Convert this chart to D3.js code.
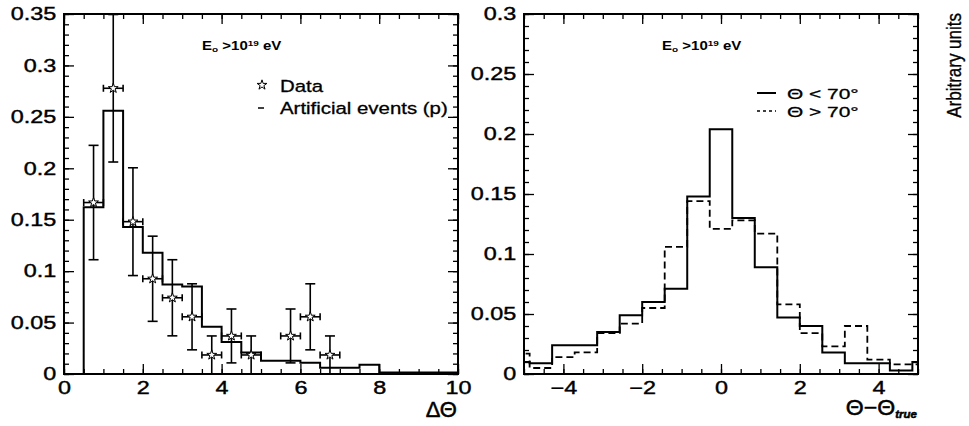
<!DOCTYPE html>
<html><head><meta charset="utf-8">
<script src="https://cdn.jsdelivr.net/npm/d3@7"></script>
<style>body{margin:0;background:#fff}svg{display:block}</style>
</head><body>
<svg id="c" width="969" height="426"></svg>
<script>
// ---------- Left panel data (ΔΘ) ----------
const leftBinEdges = [0,0.5,1,1.5,2,2.5,3,3.5,4,4.5,5,5.5,6,6.5,7,7.5,8,8.5,9,9.5,10];
const artificialEvents = [0,0.162,0.256,0.143,0.118,0.087,0.085,0.046,0.031,0.021,0.013,0.013,0.011,0.006,0.006,0.009,0.0015,0.0015,0.0015,0.0015];
const dataX    = [0.75,1.25,1.75,2.25,2.75,3.25,3.75,4.25,4.75,5.75,6.25,6.75];
const dataY    = [0.1667,0.2778,0.1481,0.0926,0.0741,0.0556,0.0185,0.0370,0.0185,0.0370,0.0556,0.0185];
const dataYErr = [0.0556,0.0717,0.0524,0.0414,0.0370,0.0321,0.0185,0.0262,0.0185,0.0262,0.0321,0.0185];
const dataXErr = [0.25,0.25,0.25,0.25,0.25,0.25,0.25,0.25,0.25,0.25,0.25,0.25];

// ---------- Right panel data (Θ−Θtrue) ----------
const rightBinEdges = [-5,-4.857,-4.286,-3.714,-3.143,-2.571,-2.0,-1.429,-0.857,-0.286,0.286,0.857,1.429,2.0,2.571,3.143,3.714,4.286,4.857,5];
const thetaBelow70 = [0.010,0.009,0.024,0.024,0.035,0.049,0.060,0.071,0.148,0.204,0.130,0.089,0.047,0.040,0.018,0.009,0.009,0.003,0.010];
const thetaAbove70 = [0.017,0.005,0.014,0.018,0.034,0.042,0.055,0.106,0.144,0.121,0.128,0.117,0.058,0.034,0.023,0.040,0.012,0.008,0.008];

// ---------- Ticks ----------
const leftXTicks = [0,2,4,6,8,10];
const leftXTickLabels = ["0","2","4","6","8","10"];
const leftYTicks = [0,0.05,0.1,0.15,0.2,0.25,0.3,0.35];
const leftYTickLabels = ["0","0.05","0.1","0.15","0.2","0.25","0.3","0.35"];
const rightXTicks = [-4,-2,0,2,4];
const rightXTickLabels = ["\u22124","\u22122","0","2","4"];
const rightYTicks = [0,0.05,0.1,0.15,0.2,0.25,0.3];
const rightYTickLabels = ["0","0.05","0.1","0.15","0.2","0.25","0.3"];

const svg = d3.select("#c");
const TOP = 14, BOTTOM = 374;
const FONT = "'Liberation Sans', Arial, sans-serif";
const SX = 1.3; // horizontal stretch of the original lettering

function addText(g, x, y, anchor, size, sx, parts, weight, strokeW) {
  const t = g.append("text")
    .attr("transform", `translate(${x},${y}) scale(${sx},1)`)
    .attr("text-anchor", anchor)
    .attr("font-family", FONT)
    .attr("font-size", size)
    .attr("font-weight", weight || "normal")
    .attr("fill", "#000");
  if (strokeW) t.attr("stroke", "#000").attr("stroke-width", strokeW);
  parts.forEach(p => {
    const ts = t.append("tspan").text(p.t);
    if (p.sub) ts.attr("font-size", p.size || size * 0.62).attr("baseline-shift", p.sub);
    if (p.style) ts.attr("font-style", p.style);
    if (p.w) ts.attr("font-weight", p.w);
  });
  return t;
}

function panel(x0, x1, xDomain, yDomain, xTicks, xLabels, yTicks, yLabels, xMinorStep) {
  const g = svg.append("g");
  const x = d3.scaleLinear().domain(xDomain).range([x0, x1]);
  const y = d3.scaleLinear().domain(yDomain).range([BOTTOM, TOP]);
  const xMinor = d3.range(xDomain[0], xDomain[1] + 1e-9, xMinorStep);
  const yMinor = d3.range(0, yDomain[1] + 1e-9, 0.01);

  function styleAxis(sel) {
    sel.select(".domain").remove();
    sel.selectAll("line").attr("stroke", "#000").attr("stroke-width", 1.3);
    sel.attr("font-family", FONT).attr("font-size", 18);
    sel.selectAll("text").attr("fill", "#000").attr("stroke", "#000").attr("stroke-width", 0.4);
  }
  // bottom
  g.append("g").attr("transform", `translate(0,${BOTTOM})`)
    .call(d3.axisBottom(x).tickValues(xMinor).tickFormat("").tickSizeInner(-5).tickSizeOuter(0)).call(styleAxis);
  const bx = g.append("g").attr("transform", `translate(0,${BOTTOM})`)
    .call(d3.axisBottom(x).tickValues(xTicks).tickFormat((d, i) => xLabels[i]).tickSizeInner(-10).tickSizeOuter(0).tickPadding(7)).call(styleAxis);
  bx.selectAll("text").attr("transform", `scale(${SX},1)`);
  // top
  g.append("g").attr("transform", `translate(0,${TOP})`)
    .call(d3.axisTop(x).tickValues(xMinor).tickFormat("").tickSizeInner(-5).tickSizeOuter(0)).call(styleAxis);
  g.append("g").attr("transform", `translate(0,${TOP})`)
    .call(d3.axisTop(x).tickValues(xTicks).tickFormat("").tickSizeInner(-10).tickSizeOuter(0)).call(styleAxis);
  // left
  g.append("g").attr("transform", `translate(${x0},0)`)
    .call(d3.axisLeft(y).tickValues(yMinor).tickFormat("").tickSizeInner(-5).tickSizeOuter(0)).call(styleAxis);
  const ly = g.append("g").attr("transform", `translate(${x0},0)`)
    .call(d3.axisLeft(y).tickValues(yTicks).tickFormat((d, i) => yLabels[i]).tickSizeInner(-10).tickSizeOuter(0).tickPadding(6)).call(styleAxis);
  ly.selectAll("text").attr("transform", `scale(${SX},1)`);
  // right
  g.append("g").attr("transform", `translate(${x1},0)`)
    .call(d3.axisRight(y).tickValues(yMinor).tickFormat("").tickSizeInner(-5).tickSizeOuter(0)).call(styleAxis);
  g.append("g").attr("transform", `translate(${x1},0)`)
    .call(d3.axisRight(y).tickValues(yTicks).tickFormat("").tickSizeInner(-10).tickSizeOuter(0)).call(styleAxis);

  return { g, x, y };
}

function histPath(edges, values, x, y) {
  const pts = [[edges[0], 0]];
  values.forEach((v, i) => { pts.push([edges[i], v]); pts.push([edges[i + 1], v]); });
  pts.push([edges[edges.length - 1], 0]);
  return d3.line().x(d => x(d[0])).y(d => y(d[1]))(pts);
}

// ================= LEFT PANEL =================
const L = panel(64, 458, [0, 10], [0, 0.35], leftXTicks, leftXTickLabels, leftYTicks, leftYTickLabels, 0.5);
L.g.append("path").attr("d", histPath(leftBinEdges, artificialEvents, L.x, L.y))
  .attr("fill", "none").attr("stroke", "#000").attr("stroke-width", 2);

const eb = L.g.append("g").attr("stroke", "#000").attr("stroke-width", 1.6);
dataX.forEach((cx, i) => {
  const px = L.x(cx), py = L.y(dataY[i]);
  const yt = L.y(Math.min(dataY[i] + dataYErr[i], 0.35)), yb = L.y(Math.max(dataY[i] - dataYErr[i], 0));
  const xl = L.x(cx - dataXErr[i]), xr = L.x(cx + dataXErr[i]);
  eb.append("line").attr("x1", px).attr("x2", px).attr("y1", yt).attr("y2", yb);
  eb.append("line").attr("x1", px - 5).attr("x2", px + 5).attr("y1", yt).attr("y2", yt);
  eb.append("line").attr("x1", px - 5).attr("x2", px + 5).attr("y1", yb).attr("y2", yb);
  eb.append("line").attr("x1", xl).attr("x2", xr).attr("y1", py).attr("y2", py);
  eb.append("line").attr("x1", xl).attr("x2", xl).attr("y1", py - 3.5).attr("y2", py + 3.5);
  eb.append("line").attr("x1", xr).attr("x2", xr).attr("y1", py - 3.5).attr("y2", py + 3.5);
});
const star = d3.symbol().type(d3.symbolStar).size(30);
L.g.append("g").selectAll("path").data(dataX).join("path")
  .attr("transform", (d, i) => `translate(${L.x(d)},${L.y(dataY[i])})`)
  .attr("d", star).attr("fill", "#fff").attr("stroke", "#000").attr("stroke-width", 1);

// frame
svg.append("rect").attr("x", 64).attr("y", TOP).attr("width", 458 - 64).attr("height", BOTTOM - TOP)
  .attr("fill", "none").attr("stroke", "#000").attr("stroke-width", 2);

// annotation + legend (left)
addText(svg, 202, 50, "start", 12, 1.25, [
  {t: "E"}, {t: "o", sub: "-25%", size: 8}, {t: " >10"}, {t: "19", sub: "40%", size: 8}, {t: " eV"}
], "bold");
svg.append("path").attr("transform", "translate(262,85)").attr("d", star)
  .attr("fill", "#fff").attr("stroke", "#000").attr("stroke-width", 1);
addText(svg, 280, 92, "start", 17, 1.2, [{t: "Data"}], "normal", 0.3);
svg.append("line").attr("x1", 258).attr("x2", 264).attr("y1", 108).attr("y2", 108).attr("stroke", "#000").attr("stroke-width", 1.5);
addText(svg, 280, 114, "start", 17, 1.2, [{t: "Artificial events (p)"}], "normal", 0.3);
addText(svg, 457, 417, "end", 22, 1.0, [{t: "\u0394\u0398"}], "normal", 0.5);

// ================= RIGHT PANEL =================
const R = panel(524, 918, [-5, 5], [0, 0.3], rightXTicks, rightXTickLabels, rightYTicks, rightYTickLabels, 0.5);
R.g.append("path").attr("d", histPath(rightBinEdges, thetaAbove70, R.x, R.y))
  .attr("fill", "none").attr("stroke", "#000").attr("stroke-width", 1.8).attr("stroke-dasharray", "7,4");
R.g.append("path").attr("d", histPath(rightBinEdges, thetaBelow70, R.x, R.y))
  .attr("fill", "none").attr("stroke", "#000").attr("stroke-width", 2);
svg.append("rect").attr("x", 524).attr("y", TOP).attr("width", 918 - 524).attr("height", BOTTOM - TOP)
  .attr("fill", "none").attr("stroke", "#000").attr("stroke-width", 2);

addText(svg, 662, 50, "start", 12, 1.25, [
  {t: "E"}, {t: "o", sub: "-25%", size: 8}, {t: " >10"}, {t: "19", sub: "40%", size: 8}, {t: " eV"}
], "bold");
svg.append("line").attr("x1", 757).attr("x2", 776).attr("y1", 93).attr("y2", 93).attr("stroke", "#000").attr("stroke-width", 2);
addText(svg, 787, 99, "start", 15.5, 1.35, [{t: "\u0398 < 70\u00B0"}], "normal", 0.3);
svg.append("line").attr("x1", 757).attr("x2", 776).attr("y1", 111).attr("y2", 111).attr("stroke", "#000").attr("stroke-width", 1.5).attr("stroke-dasharray", "3,3");
addText(svg, 787, 117, "start", 15.5, 1.35, [{t: "\u0398 > 70\u00B0"}], "normal", 0.3);
addText(svg, 917, 415, "end", 22, 1.05, [{t: "\u0398\u2212\u0398"}, {t: "true", sub: "-30%", size: 11, style: "italic", w: "bold"}], "normal", 0.5);

// vertical title
svg.append("text").attr("transform", "translate(961,13) scale(1.15,1) rotate(-90)")
  .attr("text-anchor", "end").attr("font-family", FONT).attr("font-size", 17).attr("fill", "#000")
  .attr("stroke", "#000").attr("stroke-width", 0.3)
  .text("Arbitrary units");
</script>
</body></html>
